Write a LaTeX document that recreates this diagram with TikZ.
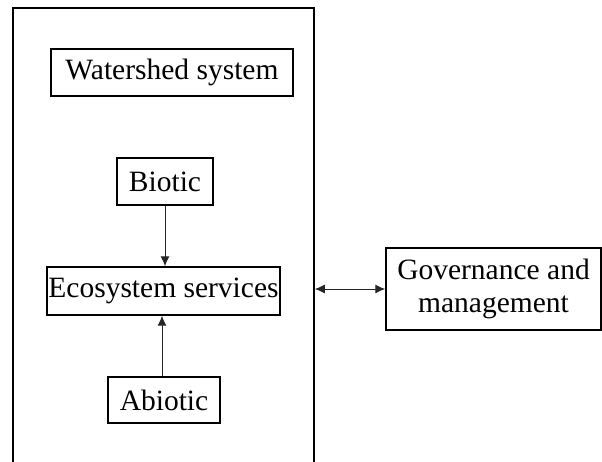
\documentclass[tikz,border=0pt]{standalone}
\usepackage{fontspec}
\setmainfont{Liberation Serif}
\usetikzlibrary{arrows.meta}
\begin{document}
\begin{tikzpicture}[x=1pt,y=-1pt,
  box/.style={draw=black,line width=1.4pt,rectangle,inner sep=0pt,align=center,
    font=\fontsize{29.5}{33}\selectfont},
  conn/.style={draw=black!85,line width=1pt},
  tip/.style={-{Latex[length=10pt,width=9pt]}}]
\useasboundingbox (0,0) rectangle (602,461);
\clip (0,0) rectangle (602,461);
\fill[white] (0,0) rectangle (602,461);
\node[box,line width=1.6pt,minimum width=301pt,minimum height=480pt] (sys) at (163.5,248) {};
\node[box,minimum width=242pt,minimum height=47pt] (ws) at (172,72.5) {Watershed system};
\node[box,minimum width=96pt,minimum height=47pt] (bio) at (165,181.5) {Biotic};
\node[box,minimum width=233pt,minimum height=48pt] (eco) at (163.5,291) {Ecosystem services};
\node[box,minimum width=112pt,minimum height=46pt] (abio) at (164,400) {Abiotic};
\node[box,minimum width=215pt,minimum height=82pt] (gov) at (493.5,289) {Governance and\\management};
\draw[conn,tip] (bio.south) -- (bio.south |- eco.north);
\draw[conn,tip] ([xshift=-2pt]abio.north) -- ([xshift=-2pt]abio.north |- eco.south);
\draw[conn,{Latex[length=10pt,width=9pt]}-{Latex[length=10pt,width=9pt]}] (gov.west -| sys.east) -- (gov.west);
\end{tikzpicture}
\end{document}
